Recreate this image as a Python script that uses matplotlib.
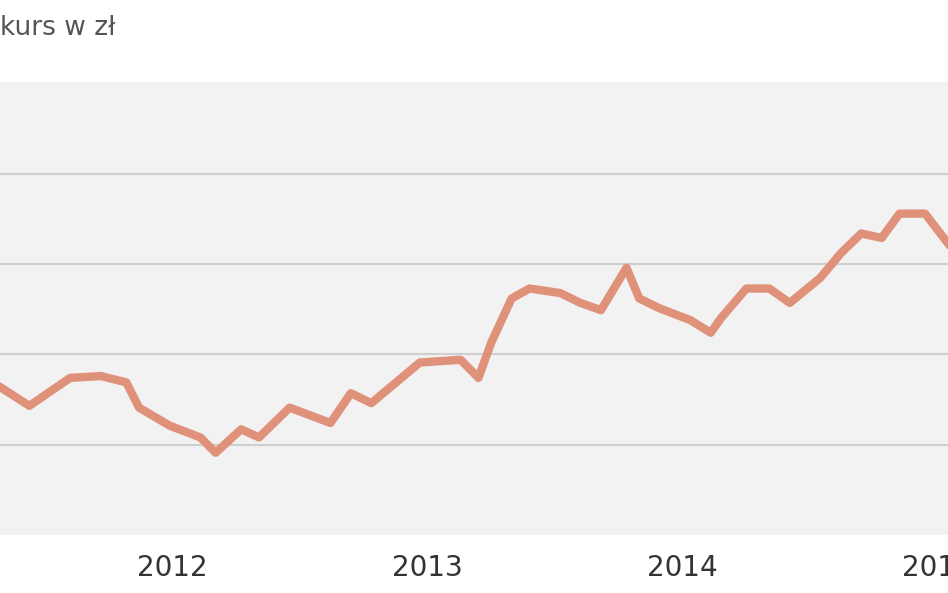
import matplotlib.pyplot as plt

# decimal years and price level (arbitrary units, gridlines at 1..4)
years = [2011.33, 2011.44, 2011.60, 2011.72, 2011.82, 2011.87, 2011.99, 2012.11,
         2012.17, 2012.27, 2012.34, 2012.46, 2012.62, 2012.70, 2012.78, 2012.89,
         2012.97, 2013.13, 2013.20, 2013.25, 2013.33, 2013.40, 2013.52, 2013.60,
         2013.68, 2013.78, 2013.83, 2013.91, 2014.03, 2014.11, 2014.15, 2014.25,
         2014.34, 2014.42, 2014.54, 2014.62, 2014.70, 2014.78, 2014.85, 2014.95,
         2015.04]
price = [1.63, 1.43, 1.74, 1.76, 1.69, 1.41, 1.21, 1.08, 0.91, 1.17, 1.08, 1.41,
         1.24, 1.57, 1.46, 1.72, 1.91, 1.94, 1.74, 2.13, 2.62, 2.73, 2.68, 2.57,
         2.49, 2.96, 2.62, 2.51, 2.38, 2.24, 2.40, 2.73, 2.73, 2.57, 2.85, 3.12,
         3.34, 3.29, 3.56, 3.56, 3.23]
tick_years = [2012, 2013, 2014, 2015]
tick_labels = ['2012', '2013', '2014', '2015']

fig = plt.figure(figsize=(9.48, 5.93), dpi=100)
ax = fig.add_axes([0, 0.098, 1, 0.764])
ax.set_facecolor('#f2f2f2')
ax.set_xlim(2011.325, 2015.04)
ax.set_ylim(0, 5.02)
ax.set_yticks([1, 2, 3, 4])
ax.yaxis.grid(True, color='#cfcfcf', lw=1.5)
ax.tick_params(axis='y', left=False, labelleft=False)
ax.set_xticks(tick_years)
ax.set_xticklabels(tick_labels, fontsize=20, color='#333333')
ax.tick_params(axis='x', length=0, pad=14)
for s in ax.spines.values():
    s.set_visible(False)
ax.plot(years, price, color='#e0917a', lw=6, solid_joinstyle='round')
fig.text(0.0, 0.953, 'kurs w zł', fontsize=19, color='#555555', va='center')
fig.savefig('out.png')
